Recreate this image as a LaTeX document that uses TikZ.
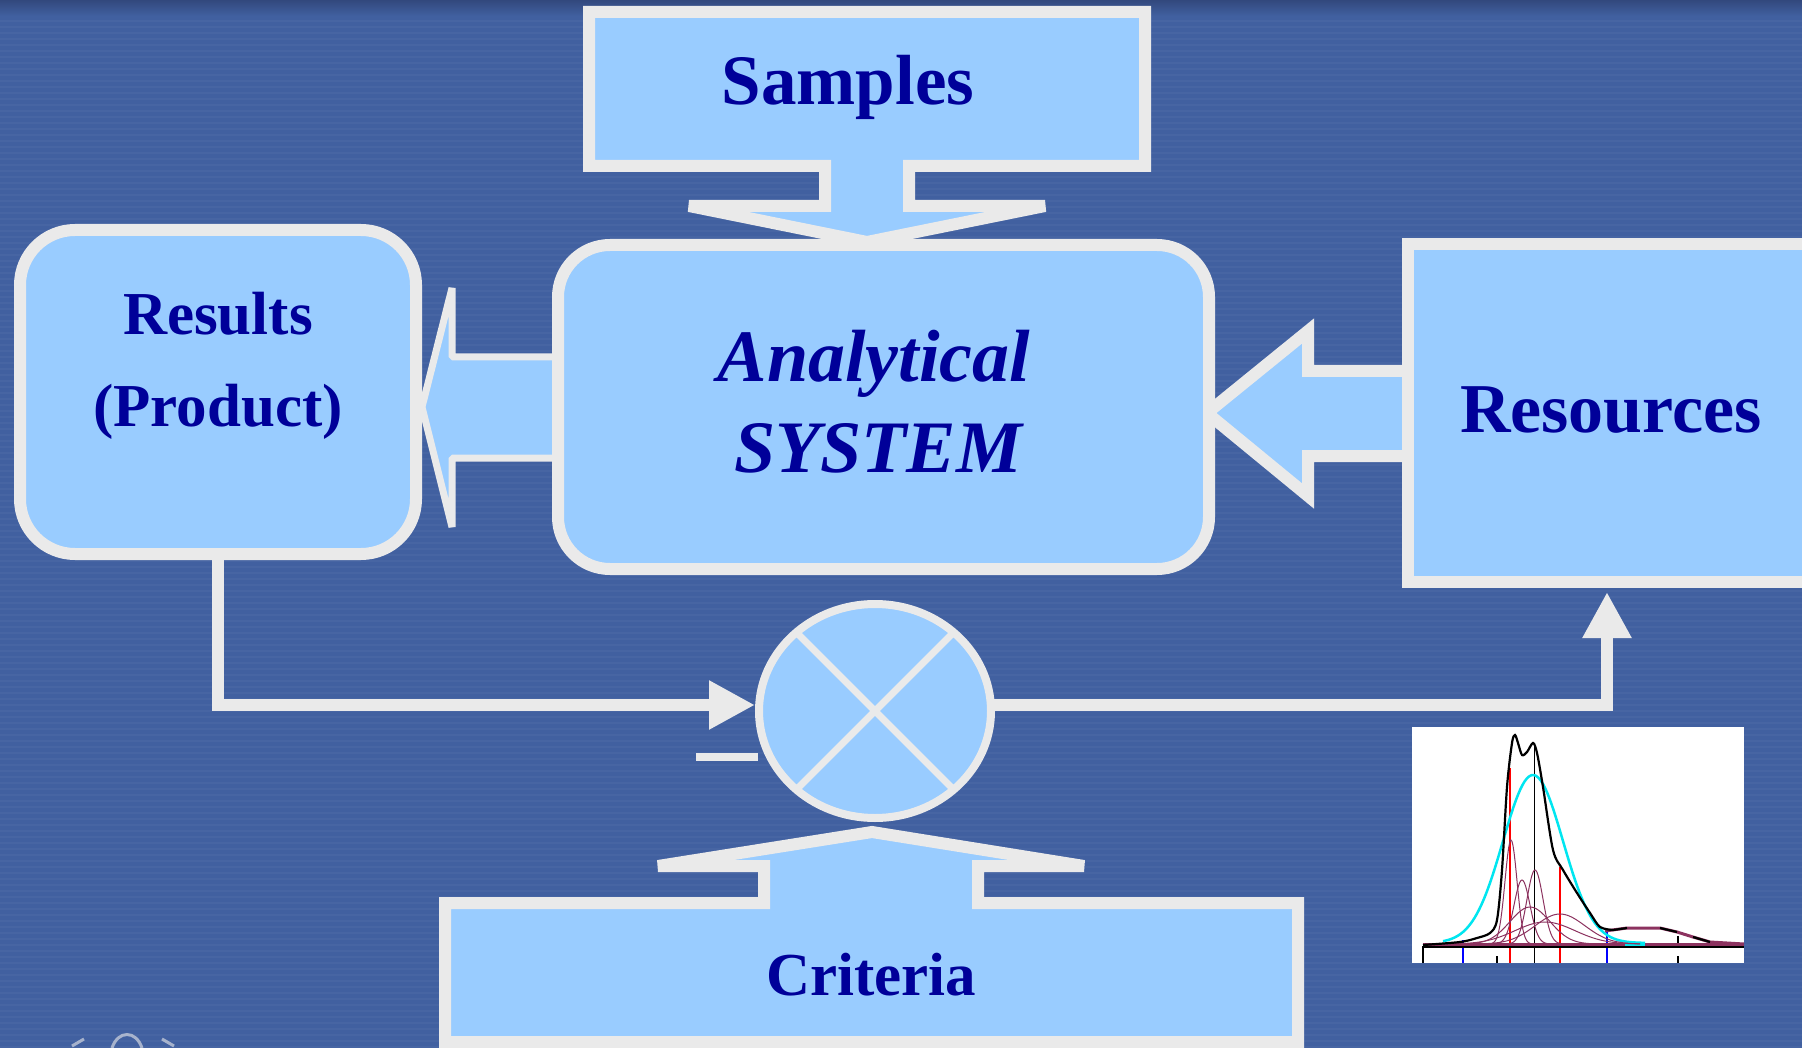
\documentclass[tikz,border=0pt]{standalone}
\usepackage{fontspec}
\setmainfont{Liberation Serif}
\usetikzlibrary{shapes.geometric,arrows.meta}

\definecolor{bgblue}{RGB}{65,96,160}
\definecolor{bgdark}{RGB}{50,72,125}
\definecolor{boxblue}{RGB}{153,204,255}
\definecolor{edge}{RGB}{234,234,234}
\definecolor{ink}{RGB}{0,0,153}
\definecolor{peak}{RGB}{140,50,95}
\definecolor{fitcyan}{RGB}{0,230,240}

\begin{document}
\begin{tikzpicture}[x=1pt,y=-1pt,
    box/.style={draw=edge,fill=boxblue,line width=12pt,inner sep=0pt,outer sep=0pt},
    rbox/.style={box,rounded corners=55pt},
    lbl/.style={text=ink,anchor=base,inner sep=0pt},
    wire/.style={draw=edge,line width=12pt},
    tip/.style={-{Triangle[length=46pt,width=46pt]}}]
    \useasboundingbox (0,0) rectangle (1802,1048);
    % background
    \fill[bgblue] (0,0) rectangle (1802,1048);
    \foreach \y in {3,9,...,1048}
        \draw[white,opacity=0.035,line width=2pt] (0,\y) -- (1802,\y);
    \shade[top color=bgdark,bottom color=bgblue] (0,0) rectangle (1802,16);
    \draw[edge,opacity=0.6,line width=3pt] (112,1048) .. controls (118,1030) and (136,1030) .. (142,1048);
    \draw[edge,opacity=0.6,line width=3pt] (72,1046) -- (84,1039) (162,1039) -- (174,1046);

    % block arrows
    \draw[draw=edge,fill=boxblue,line width=12pt] (589,12) -- (1145,12) -- (1145,166) -- (909,166) -- (909,206)
        -- (1045,206) -- (867,242) -- (689,206) -- (825,206) -- (825,166) -- (589,166) -- cycle;
    \draw[draw=edge,fill=boxblue,line width=7pt,line join=bevel] (560,357) -- (452,357) -- (452,288) -- (422,407)
        -- (452,527) -- (452,458) -- (560,458);
    \draw[draw=edge,fill=boxblue,line width=12pt] (1408,371) -- (1308,371) -- (1308,331) -- (1207,413)
        -- (1308,496) -- (1308,456) -- (1408,456);
    \draw[draw=edge,fill=boxblue,line width=12pt] (445,1042) -- (445,903) -- (764,903) -- (764,866) -- (658,866)
        -- (872,832) -- (1084,866) -- (978,866) -- (978,903) -- (1298,903) -- (1298,1042) -- cycle;

    % boxes
    \node[rbox,minimum width=396pt,minimum height=324pt] (results) at (218,392) {};
    \node[rbox,rounded corners=52pt,minimum width=651pt,minimum height=324pt] (system) at (883.5,407) {};
    \node[box,minimum width=592pt,minimum height=338pt] (resources) at (1704,413) {};
    \node[ellipse,draw=edge,fill=boxblue,line width=8pt,minimum width=232pt,minimum height=214pt,
        inner sep=0pt,outer sep=0pt] (mix) at (875,711) {};
    \draw[edge,line width=7pt] (mix.135) -- (mix.-45) (mix.45) -- (mix.-135);
    \fill[edge] (696,753) rectangle (758,761);

    % wires
    \draw[wire,tip] (results.south) |- ([xshift=-4pt,yshift=6pt]mix.west);
    \draw[wire,tip] ([yshift=6pt]mix.east) -| ([xshift=199pt,yshift=-10pt]resources.south west);

    % labels
    \node[lbl,font=\fontsize{71}{80}\selectfont\bfseries] (samples) at (848,105) {Samples};
    \node[lbl,font=\fontsize{61}{70}\selectfont\bfseries] (res1) at (218,335) {Results};
    \node[lbl,font=\fontsize{61}{70}\selectfont\bfseries] (res2) at (218,427) {(Product)};
    \node[lbl,font=\fontsize{74}{80}\selectfont\bfseries\itshape] (sys1) at (874,382) {Analytical};
    \node[lbl,font=\fontsize{74}{80}\selectfont\bfseries\itshape] (sys2) at (878,472) {SYSTEM};
    \node[lbl,font=\fontsize{70}{80}\selectfont\bfseries] (resrc) at (1611,432) {Resources};
    \node[lbl,font=\fontsize{61}{70}\selectfont\bfseries] (crit) at (871,995) {Criteria};

    % spectrum
    \fill[white] (1412,727) rectangle (1744,963);
    \begin{scope}[line width=1.5pt]
        \draw[blue] (1463,940) -- (1463,963) (1607,930) -- (1607,963);
        \draw[red] (1510,768) -- (1510,963) (1560,867) -- (1560,963);
        \draw[black,line width=1pt] (1534,743) -- (1534,963);
        \draw[black] (1497,956) -- (1497,963) (1678,956) -- (1678,963) (1678,936) -- (1678,947);
        \draw[black] (1423,963) -- (1423,947) -- (1744,947);
        \draw[peak,line width=3pt] (1423,944) -- (1744,944);
        \draw[fitcyan,line width=2.5pt] plot[domain=1443:1645,samples=90] (\x,{943-168*exp(-0.5*((\x-1533)/30)^2)});
        \draw[fitcyan,line width=4pt] (1625,944) -- (1645,944);
        \draw[peak,line width=1pt] plot[domain=1480:1545,samples=60] (\x,{944-104*exp(-0.5*((\x-1511)/6)^2)});
        \draw[peak,line width=1pt] plot[domain=1490:1560,samples=60] (\x,{944-64*exp(-0.5*((\x-1522)/8)^2)});
        \draw[peak,line width=1pt] plot[domain=1500:1575,samples=60] (\x,{944-74*exp(-0.5*((\x-1535)/8)^2)});
        \draw[peak,line width=1pt] plot[domain=1460:1610,samples=60] (\x,{944-37*exp(-0.5*((\x-1530)/20)^2)});
        \draw[peak,line width=1pt] plot[domain=1470:1640,samples=60] (\x,{944-30*exp(-0.5*((\x-1560)/25)^2)});
        \draw[peak,line width=1pt] plot[domain=1460:1640,samples=60] (\x,{944-22*exp(-0.5*((\x-1545)/30)^2)});
        \draw[peak,line width=3pt] (1605,931) -- (1627,928) -- (1660,928) -- (1677,932) -- (1693,937) -- (1710,942) -- (1744,944);
        \draw[black,line width=2.2pt] plot[smooth,tension=0.5] coordinates {(1423,945) (1460,942) (1477,938)
            (1490,933) (1497,920) (1502,870) (1507,787) (1512,743) (1515,735) (1518,743) (1522,755) (1527,752)
            (1533,743) (1537,753) (1543,787) (1553,850) (1563,870) (1577,893) (1590,913) (1600,927) (1613,930)};
        \draw[black,line width=2.2pt] (1613,930) -- (1627,928) (1660,928) -- (1677,932) (1693,937) -- (1710,942);
    \end{scope}
\end{tikzpicture}
\end{document}
